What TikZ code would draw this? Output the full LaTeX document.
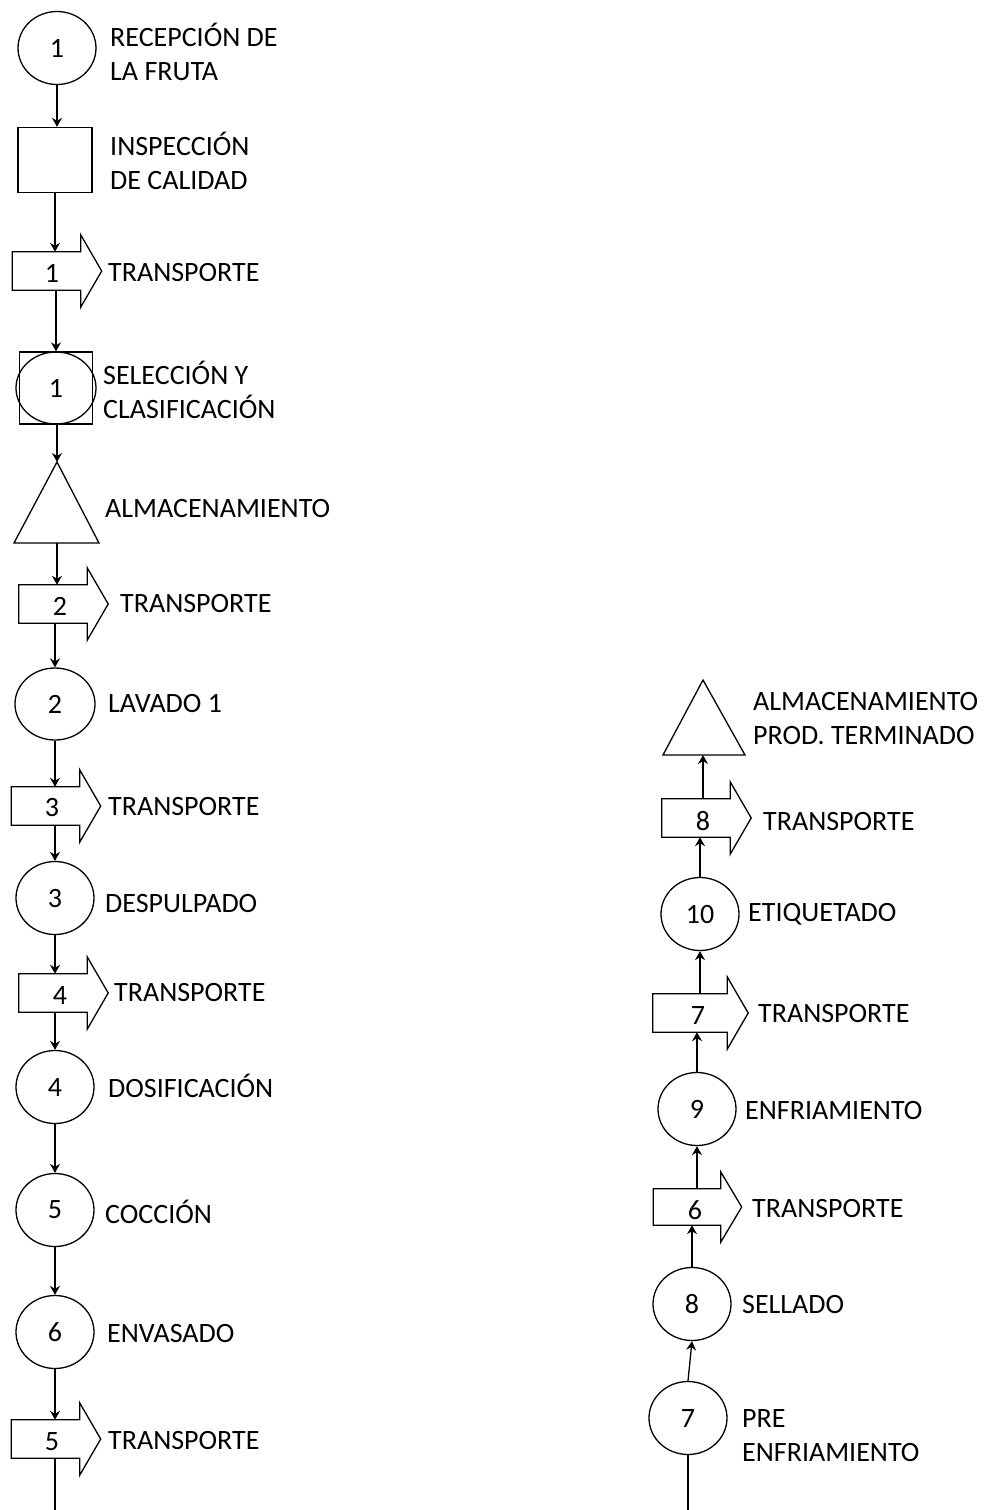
\documentclass[tikz,border=0pt]{standalone}
\usepackage{fontspec}
\setmainfont{Carlito}
\usetikzlibrary{shapes.geometric, arrows.meta, calc}

\begin{document}
\begin{tikzpicture}[x=1pt, y=-1pt,
  oper/.style={draw, ellipse, minimum width=78pt, minimum height=73pt, inner sep=0pt, line width=1.3pt},
  insp/.style={draw, rectangle, minimum width=74pt, minimum height=65pt, inner sep=0pt, line width=1.3pt},
  tbody/.style={rectangle, minimum width=68pt, minimum height=38pt, inner sep=0pt},
  num/.style={inner sep=0pt},
  lbl/.style={anchor=west, align=left, inner sep=0pt},
  flow/.style={line width=1.3pt, -{Stealth[length=9pt, width=10pt, inset=3pt]}},
  font=\fontsize{28}{34}\selectfont]

  \useasboundingbox (0,0) rectangle (988,1510);

  % Left column: reception down to packing
  \node[oper] (c1) at (57,48) {1};
  \node[lbl] at (110,52) {RECEPCIÓN DE\\LA FRUTA};

  \node[insp] (q1) at (55,160) {};
  \node[lbl] at (110,161) {INSPECCIÓN\\DE CALIDAD};

  \node[tbody] (t1) at (46.5,271) {};
  \node[num] (n1) at (52,273) {1};
  \node[lbl] at (108,273) {TRANSPORTE};

  \node[insp, minimum width=73pt, minimum height=72pt] (s1) at (56,388) {};
  \node[oper, minimum width=80pt, minimum height=72pt] (s1c) at (56,388) {1};
  \node[lbl] at (103,390) {SELECCIÓN Y\\CLASIFICACIÓN};

  \coordinate (a1) at (57,462);
  \coordinate (a1b) at (57,543);
  \draw[line width=1.3pt] (a1) -- (99,543) -- (14,543) -- cycle;
  \node[lbl] at (105,509) {ALMACENAMIENTO};

  \node[tbody] (t2) at (53,604) {};
  \node[num] (n2) at (60,606) {2};
  \node[lbl] at (120,604) {TRANSPORTE};

  \node[oper, minimum width=80pt, minimum height=72pt] (c2) at (55,704) {2};
  \node[lbl] at (108,704) {LAVADO 1};

  \node[tbody] (t3) at (45.5,806) {};
  \node[num] (n3) at (52,808) {3};
  \node[lbl] at (108,806) {TRANSPORTE};

  \node[oper] (c3) at (55,898) {3};
  \node[lbl] at (105,904) {DESPULPADO};

  \node[tbody] (t4) at (53,993) {};
  \node[num] (n4) at (60,995) {4};
  \node[lbl] at (114,992) {TRANSPORTE};

  \node[oper] (c4) at (55,1087) {4};
  \node[lbl] at (108,1086) {DOSIFICACIÓN};

  \node[oper] (c5) at (55,1210) {5};
  \node[lbl] at (105,1212) {COCCIÓN};

  \node[oper] (c6) at (55,1332) {6};
  \node[lbl] at (107,1333) {ENVASADO};

  \node[tbody] (t5) at (45.5,1439) {};
  \node[num] (n5) at (52,1442) {5};
  \node[lbl] at (108,1440) {TRANSPORTE};
  \coordinate (endl) at (55,1510);

  % Right column: pre-cooling up to storage
  \coordinate (a2) at (703,680);
  \coordinate (a2b) at (703,755);
  \draw[line width=1.3pt] (a2) -- (745,755) -- (663,755) -- cycle;
  \node[lbl] at (753,719) {ALMACENAMIENTO\\PROD. TERMINADO};

  \node[tbody] (t8) at (696,818) {};
  \node[num] (n8) at (703,821) {8};
  \node[lbl] at (763,821) {TRANSPORTE};

  \node[oper] (c10) at (700,914) {10};
  \node[lbl] at (748,914) {ETIQUETADO};

  \node[tbody, minimum width=74pt] (t7) at (690,1013) {};
  \node[num] (n7) at (698,1016) {7};
  \node[lbl] at (758,1013) {TRANSPORTE};

  \node[oper] (c9) at (697,1109) {9};
  \node[lbl] at (745,1110) {ENFRIAMIENTO};

  \node[tbody, minimum width=67pt, minimum height=36pt] (t6) at (687,1207) {};
  \node[num] (n6) at (695,1210) {6};
  \node[lbl] at (752,1208) {TRANSPORTE};

  \node[oper] (c8) at (692,1304) {8};
  \node[lbl] at (742,1304) {SELLADO};

  \node[oper] (c7) at (688,1418) {7};
  \node[lbl] at (742,1436) {PRE\\ENFRIAMIENTO};
  \coordinate (endr) at (688,1510);

  % Transport block arrows
  \foreach \t in {t1,t2,t3,t4,t5,t6,t7,t8}
    \draw[line width=1.3pt] (\t.north east) -- (\t.north west) -- (\t.south west)
      -- (\t.south east) -- ++(0,17) -- ($(\t.east)+(21,0)$)
      -- ($(\t.north east)+(0,-17)$) -- cycle;

  % Left flow (downwards)
  \draw[flow] (c1.south) -- (c1.south |- q1.north);
  \draw[flow] (q1.south) -- (q1.south |- t1.north);
  \draw[flow] (s1.north |- t1.south) -- (s1.north);
  \draw[flow] (a1 |- s1.south) -- (a1);
  \draw[flow] (a1b) -- (a1b |- t2.north);
  \draw[flow] (c2.north |- t2.south) -- (c2.north);
  \draw[flow] (c2.south) -- (c2.south |- t3.north);
  \draw[flow] (c3.north |- t3.south) -- (c3.north);
  \draw[flow] (c3.south) -- (c3.south |- t4.north);
  \draw[flow] (c4.north |- t4.south) -- (c4.north);
  \draw[flow] (c4.south) -- (c5.north);
  \draw[flow] (c5.south) -- (c6.north);
  \draw[flow] (c6.south) -- (c6.south |- t5.north);
  \draw[line width=1.3pt] (endl |- t5.south) -- (endl);

  % Right flow (upwards)
  \draw[line width=1.3pt] (endr) -- (c7.south);
  \draw[flow] (c7.north) -- (c8.south);
  \draw[flow] (c8.north) -- (c8.north |- t6.south);
  \draw[flow] (c9.south |- t6.north) -- (c9.south);
  \draw[flow] (c9.north) -- (c9.north |- t7.south);
  \draw[flow] (c10.south |- t7.north) -- (c10.south);
  \draw[flow] (c10.north) -- (c10.north |- t8.south);
  \draw[flow] (a2b |- t8.north) -- (a2b);
\end{tikzpicture}
\end{document}
